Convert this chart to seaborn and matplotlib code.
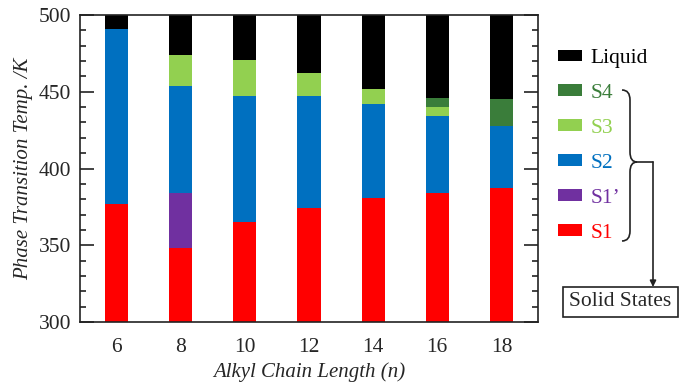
import matplotlib
matplotlib.use("Agg")
import matplotlib.pyplot as plt
from matplotlib.patches import Patch, Rectangle, PathPatch, FancyArrowPatch
from matplotlib.path import Path
from matplotlib.ticker import MultipleLocator
import numpy as np
import pandas as pd
import seaborn as sns

sns.set_style("white")
plt.rcParams['font.family'] = ['Liberation Serif', 'DejaVu Serif']

# chain length n and upper transition temperature of each phase (K)
chain = ['6', '8', '10', '12', '14', '16', '18']
liquid_top = [500, 500, 500, 500, 500, 500, 500]
s4_top = [np.nan, np.nan, np.nan, np.nan, np.nan, 446, 445]
s3_top = [np.nan, 474, 471, 462, 452, 440, np.nan]
s2_top = [491, 454, 447, 447, 442, 434, 428]
s1p_top = [np.nan, 384, np.nan, np.nan, np.nan, np.nan, np.nan]
s1_top = [377, 348, 365, 374, 381, 384, 387]

phases = ['Liquid', 'S4', 'S3', 'S2', "S1\u2019", 'S1']
tops = [liquid_top, s4_top, s3_top, s2_top, s1p_top, s1_top]
colors = ['#000000', '#3A7D3A', '#92D050', '#0070C0', '#7030A0', '#FF0000']

fig = plt.figure(figsize=(6.81, 3.83), dpi=100)
ax = fig.add_axes([80 / 681, 1 - 322 / 383, 458 / 681, 307 / 383])

# draw from the top phase down so the lower ones cover the upper ones
for name, vals, c in zip(phases, tops, colors):
    df = pd.DataFrame({'n': chain, 'T': vals})
    sns.barplot(data=df, x='n', y='T', order=chain, color=c, width=0.36,
                saturation=1, linewidth=0, errorbar=None, ax=ax)

ax.set_ylim(300, 500)
ax.set_xlim(-0.57, 6.57)
ax.yaxis.set_major_locator(MultipleLocator(50))
ax.yaxis.set_minor_locator(MultipleLocator(10))
ax.tick_params(axis='y', which='both', direction='in', left=True, right=True,
               labelsize=15.5, width=1.2, color='#222222', pad=6.5)
ax.tick_params(axis='y', which='major', length=10)
ax.tick_params(axis='y', which='minor', length=4.5)
ax.tick_params(axis='x', bottom=False, labelsize=15.5, pad=8)
for sp in ax.spines.values():
    sp.set_visible(True)
    sp.set_linewidth(1.2)
    sp.set_color('#222222')

ax.set_xlabel('Alkyl Chain Length (n)', fontsize=15, style='italic', labelpad=4)
ax.set_ylabel('Phase Transition Temp. /K', fontsize=15, style='italic', labelpad=4)

# legend with coloured labels
handles = [Patch(facecolor=c, edgecolor='none') for c in colors]
leg = fig.legend(handles, phases, loc='upper left', bbox_to_anchor=(558 / 681, 1 - 49 / 383),
                 frameon=False, fontsize=15.5, labelspacing=0.74, handlelength=1.1,
                 handleheight=0.45, handletextpad=0.42, borderpad=0, borderaxespad=0)
for t, c in zip(leg.get_texts(), colors):
    t.set_color(c)


def px(x, y):
    return (x / 681, 1 - y / 383)


# curly brace grouping the solid phases
verts = [(622, 90), (630, 90), (630, 100), (630, 152), (630, 162), (637, 162),
         (630, 162), (630, 172), (630, 231), (630, 241), (622, 241)]
verts = [px(x, y) for x, y in verts]
codes = [Path.MOVETO, Path.CURVE3, Path.CURVE3, Path.LINETO, Path.CURVE3, Path.CURVE3,
         Path.CURVE3, Path.CURVE3, Path.LINETO, Path.CURVE3, Path.CURVE3]
fig.add_artist(PathPatch(Path(verts, codes), facecolor='none', edgecolor='#222222',
                         lw=1.2, transform=fig.transFigure))
fig.add_artist(plt.Line2D([px(637, 0)[0], px(653, 0)[0]], [px(0, 162)[1], px(0, 162)[1]],
                          color='#222222', lw=1.2, transform=fig.transFigure))
fig.add_artist(FancyArrowPatch(px(653, 162), px(653, 287), arrowstyle='-|>', mutation_scale=9,
                               color='#222222', lw=1.2, shrinkA=0, shrinkB=0,
                               transform=fig.transFigure))
x0, y0 = px(563, 317)
x1, y1 = px(678, 287)
fig.add_artist(Rectangle((x0, y0), x1 - x0, y1 - y0, facecolor='white', edgecolor='#222222',
                         lw=1.2, transform=fig.transFigure))
fig.text(*px(620.5, 302), 'Solid States', fontsize=15.5, ha='center', va='center')

fig.savefig('out.png', dpi=100)
